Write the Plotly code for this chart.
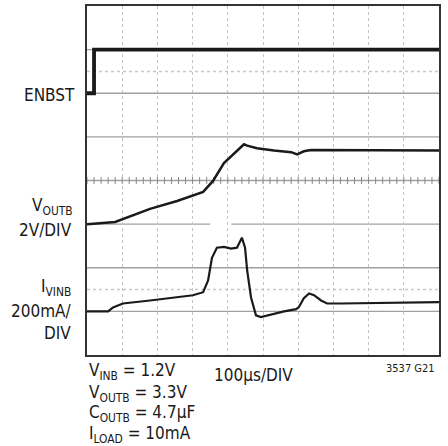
import plotly.graph_objects as go

# ---- data (divisions: x = 0..10 time divs, y = 0..8 vertical divs) ----
enbst_t = [0, 0.2, 0.2, 10]
enbst_v = [6.0, 6.0, 7.0, 7.0]

voutb_t = [0, 0.8, 1.79, 2.56, 3.3, 3.58, 3.89, 4.18, 4.46, 4.55, 4.83, 5.31, 5.8, 5.97, 6.16, 6.36, 10]
voutb_v = [3.0, 3.05, 3.35, 3.53, 3.74, 3.99, 4.40, 4.62, 4.83, 4.80, 4.74, 4.69, 4.65, 4.60, 4.67, 4.70, 4.69]

ivinb_t = [0, 0.6, 0.74, 1.02, 1.79, 2.56, 3.01, 3.3, 3.44, 3.55, 3.69, 3.89, 4.09, 4.26, 4.40,
           4.49, 4.55, 4.66, 4.8, 4.94, 5.23, 5.6, 5.94, 6.02, 6.16, 6.31, 6.45, 6.65, 6.82, 7.22, 10]
ivinb_v = [1.0, 1.0, 1.09, 1.18, 1.25, 1.32, 1.37, 1.44, 1.71, 2.23, 2.46, 2.48, 2.44, 2.46, 2.69,
           2.46, 1.94, 1.32, 0.91, 0.87, 0.93, 1.0, 1.05, 1.10, 1.30, 1.41, 1.37, 1.25, 1.18, 1.18, 1.21]

center_ticks = [i * 0.2 for i in range(51)]

FONT = "Liberation Sans Narrow, DejaVu Sans Condensed, Arial Narrow, sans-serif"
INK = "#1a1a1a"
GRID = "#a0a0a0"

fig = go.Figure()

# graticule ticks on center line
fig.add_trace(go.Scatter(x=center_ticks, y=[4] * len(center_ticks), mode="markers",
                         marker=dict(symbol="line-ns-open", size=5, color="#888",
                                     line=dict(width=1, color="#888")),
                         hoverinfo="skip", showlegend=False))

fig.add_trace(go.Scatter(x=enbst_t, y=enbst_v, mode="lines",
                         line=dict(color=INK, width=3.8), showlegend=False))
fig.add_trace(go.Scatter(x=voutb_t, y=voutb_v, mode="lines",
                         line=dict(color=INK, width=2.5), showlegend=False))
fig.add_trace(go.Scatter(x=ivinb_t, y=ivinb_v, mode="lines",
                         line=dict(color=INK, width=2.2), showlegend=False))

shapes = []
for yv in [1, 2, 4, 5, 6, 7]:
    shapes.append(dict(type="line", xref="x", yref="y", x0=0, x1=10, y0=yv, y1=yv,
                       line=dict(color=GRID, width=1.3), layer="below"))
shapes.append(dict(type="line", xref="x", yref="y", x0=0, x1=3.5, y0=3, y1=3,
                   line=dict(color=GRID, width=1.3), layer="below"))
shapes.append(dict(type="line", xref="x", yref="y", x0=4.1, x1=10, y0=3, y1=3,
                   line=dict(color=GRID, width=1.3), layer="below"))
for yv in [1.5, 6.5]:
    shapes.append(dict(type="line", xref="x", yref="y", x0=0, x1=10, y0=yv, y1=yv,
                       line=dict(color="#c8c8c8", width=1.5, dash="dot"), layer="below"))

annotations = []
def lab(text, y, x=-0.03, size=17, yref="y", xanchor="right"):
    annotations.append(dict(text=text, x=x, y=y, xref="paper", yref=yref, xanchor=xanchor,
                            yanchor="middle", showarrow=False,
                            font=dict(family=FONT, size=size, color=INK)))

lab("ENBST", 5.97, x=-0.028)
lab("V<sub>OUTB</sub>", 3.4, x=-0.034)
lab("2V/DIV", 2.87, x=-0.037)
lab("I<sub>VINB</sub>", 1.55, x=-0.04)
lab("200mA/", 1.0, x=-0.037)
lab("DIV", 0.5, x=-0.04)

lab("V<sub>INB</sub> = 1.2V", -0.048, x=0.0, yref="paper", xanchor="left")
lab("V<sub>OUTB</sub> = 3.3V", -0.109, x=0.0, yref="paper", xanchor="left")
lab("C<sub>OUTB</sub> = 4.7µF", -0.169, x=0.0, yref="paper", xanchor="left")
lab("I<sub>LOAD</sub> = 10mA", -0.228, x=0.0, yref="paper", xanchor="left")
lab("100µs/DIV", -0.057, x=0.474, yref="paper", xanchor="center")
lab("3537 G21", -0.04, x=0.994, size=11, yref="paper", xanchor="right")

fig.update_layout(
    width=448, height=446,
    margin=dict(l=87, r=9, t=4, b=91),
    paper_bgcolor="white", plot_bgcolor="white",
    shapes=shapes, annotations=annotations,
    hovermode=False,
    xaxis=dict(range=[0, 10], dtick=1, showgrid=True, gridcolor="#c4c4c4", griddash="dot",
               gridwidth=1, showticklabels=False, ticks="", zeroline=False,
               showline=True, linecolor="#333", linewidth=2, mirror=True),
    yaxis=dict(range=[0, 8], dtick=1, showgrid=False, showticklabels=False, ticks="",
               zeroline=False, showline=True, linecolor="#333", linewidth=2, mirror=True),
)

fig.write_html("out.html", config={"displayModeBar": False, "staticPlot": True},
               post_script="document.body.style.margin='0';document.body.style.overflow='hidden';")
